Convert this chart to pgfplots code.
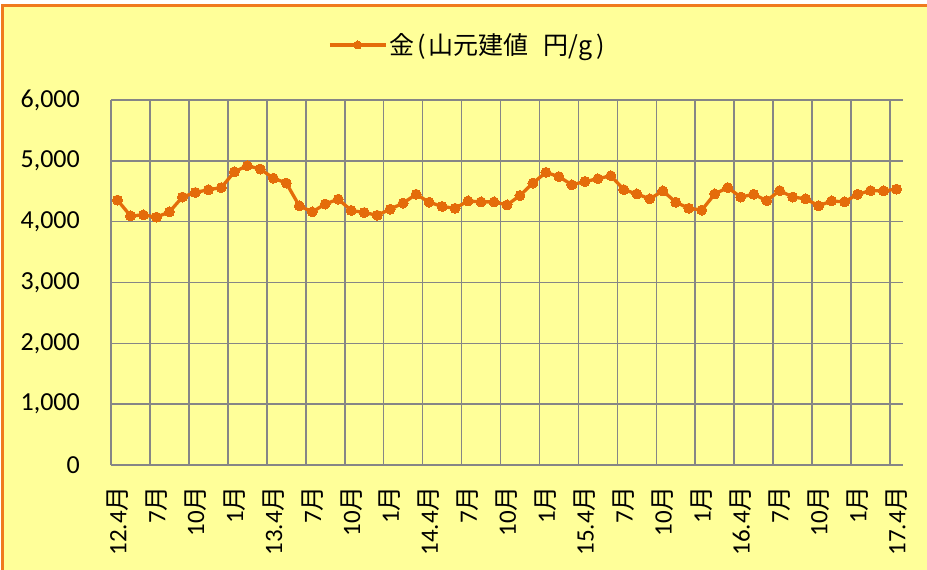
\documentclass[border=0pt]{standalone}
\usepackage{pgfplots}
\pgfplotsset{compat=1.18}
\usepackage{fontspec}
\setmainfont{Carlito}
\newfontfamily\cjk{Noto Sans CJK JP}
\newcommand{\M}{{\cjk 月}}
\definecolor{bgy}{HTML}{FFFF99}
\definecolor{lineor}{HTML}{E46C0A}
\definecolor{bord}{HTML}{F07A1E}
\definecolor{gridg}{HTML}{868686}
\pgfplotstableread{
x y
0 4355
1 4095
2 4110
3 4075
4 4160
5 4405
6 4480
7 4525
8 4560
9 4820
10 4920
11 4865
12 4715
13 4635
14 4260
15 4160
16 4290
17 4370
18 4185
19 4150
20 4105
21 4205
22 4305
23 4450
24 4320
25 4250
26 4220
27 4340
28 4325
29 4325
30 4275
31 4430
32 4635
33 4810
34 4740
35 4605
36 4660
37 4705
38 4755
39 4525
40 4455
41 4375
42 4505
43 4320
44 4220
45 4190
46 4455
47 4560
48 4405
49 4450
50 4345
51 4510
52 4405
53 4375
54 4260
55 4340
56 4325
57 4450
58 4510
59 4505
60 4535
}\gold
\begin{document}
\begin{tikzpicture}[x=1bp,y=1bp]
\useasboundingbox (0,0) rectangle (927,570);
\clip (0,0) rectangle (927,570);
\fill[white] (0,0) rectangle (927,570);
\filldraw[fill=bgy, draw=bord, line width=2.2bp] (2.5,-20) rectangle (960,564.5);
\begin{axis}[
  at={(111bp,105bp)}, anchor=south west,
  scale only axis, width=792bp, height=365bp,
  xmin=-0.5, xmax=60.5, ymin=0, ymax=6000,
  axis line style={draw=none},
  xtick={0,3,...,60},
  xticklabels={12.4\M,7\M,10\M,1\M,13.4\M,7\M,10\M,1\M,14.4\M,7\M,10\M,1\M,15.4\M,7\M,10\M,1\M,16.4\M,7\M,10\M,1\M,17.4\M},
  minor xtick={-0.5,2.5,...,59.5},
  xminorgrids, ymajorgrids,
  ytick={0,1000,...,6000},
  major tick length=0pt, minor tick length=0pt,
  grid style={draw=gridg, line width=1.6bp},
  minor grid style={draw=gridg, line width=1.6bp},
  scaled ticks=false,
  /pgf/number format/.cd, 1000 sep={,}, assume math mode=true,
  /pgfplots/.cd,
  yticklabel style={font=\fontsize{26bp}{30bp}\selectfont, black, anchor=east, inner sep=0pt, xshift=-31bp},
  xticklabel style={font=\fontsize{25bp}{30bp}\selectfont, black, rotate=90, anchor=east, inner sep=0pt, xshift=-21bp},
  legend style={at={(0.45,1)}, anchor=center, yshift=55bp, draw=none, fill=none,
    font=\cjk\fontsize{25bp}{30bp}\selectfont, inner sep=0pt},
  legend image code/.code={\draw[mark repeat=2,mark phase=2,#1, mark size=4bp] plot coordinates {(0bp,0bp) (28bp,0bp) (56bp,0bp)};},
]
\addplot[color=lineor, line width=3.3bp, mark=*, mark size=5bp, mark options={fill=lineor, draw=lineor, line width=0pt}] table[x=x,y=y] {\gold};
\addlegendentry{金\kern0.12em(\kern0.12em山元建値\hspace{0.6em}円/g\kern0.15em)}
\end{axis}
\end{tikzpicture}
\end{document}
